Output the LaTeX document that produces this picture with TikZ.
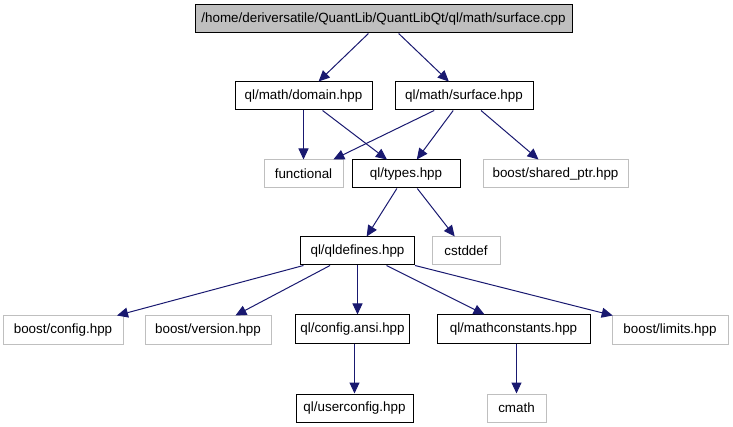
\documentclass[tikz,border=0pt]{standalone}
\usepackage{fontspec}
\setmainfont{Liberation Sans}
\usepackage{xcolor}
\usepackage{tikz}
\usetikzlibrary{positioning,%
  arrows.meta,%
  calc
}
\definecolor{edgeblue}{HTML}{191970}
\definecolor{filegray}{HTML}{BFBFBF}

\begin{document}
\begin{tikzpicture}
                    [
                        x=1pt, y=-1pt,
                        every node/.style={draw, rectangle, inner sep=0pt, minimum height=28pt,
                            font=\fontsize{13.4}{15}\selectfont},
                        file/.style={line width=1pt, draw=black},
                        extern/.style={draw=filegray, line width=1pt},
                        dep/.style={draw=edgeblue, line width=1pt, -{Triangle[length=11pt,width=10pt]}}
                    ]

                    % Rahmen
                    \useasboundingbox (0,0) rectangle (733,427);

                    % Dateien
                    \node[file, fill=filegray, minimum width=377pt] (top) at (383.5,19) {/home/deriversatile/QuantLib/QuantLibQt/ql/math/surface.cpp};
                    \node[file, minimum width=137pt] (domain) at (303.5,96) {ql/math/domain.hpp};
                    \node[file, minimum width=138pt] (surface) at (464,96) {ql/math/surface.hpp};
                    \node[extern, minimum width=79pt] (functional) at (303.5,174) {functional};
                    \node[file, minimum width=108pt] (types) at (406,174) {ql/types.hpp};
                    \node[extern, minimum width=145pt] (sharedptr) at (555.5,174) {boost/shared\_ptr.hpp};
                    \node[file, minimum width=114pt] (qldefines) at (357.5,251) {ql/qldefines.hpp};
                    \node[extern, minimum width=68pt] (cstddef) at (466,251) {cstddef};
                    \node[extern, minimum width=120pt] (bconfig) at (63,330) {boost/config.hpp};
                    \node[extern, minimum width=126pt] (bversion) at (208,330) {boost/version.hpp};
                    \node[file, minimum width=114pt] (configansi) at (352.5,329) {ql/config.ansi.hpp};
                    \node[file, minimum width=153pt] (mathconst) at (513.5,329) {ql/mathconstants.hpp};
                    \node[extern, minimum width=116pt] (blimits) at (670,330) {boost/limits.hpp};
                    \node[file, minimum width=117pt] (userconfig) at (354.5,408) {ql/userconfig.hpp};
                    \node[extern, minimum width=59pt] (cmath) at (516.5,408) {cmath};

                    % Abhaengigkeiten
                    \draw[dep] (top) -- (domain);
                    \draw[dep] (top) -- (surface);
                    \draw[dep] (domain) -- (functional);
                    \draw[dep] (domain) -- (types);
                    \draw[dep] (surface) -- (functional);
                    \draw[dep] (surface) -- (types);
                    \draw[dep] (surface) -- (sharedptr);
                    \draw[dep] (types) -- (qldefines);
                    \draw[dep] (types) -- (cstddef);
                    \draw[dep] (qldefines) -- (bconfig);
                    \draw[dep] (qldefines) -- (bversion);
                    \draw[dep] (qldefines.south) -- (configansi.north -| qldefines.south);
                    \draw[dep] (qldefines) -- (mathconst);
                    \draw[dep] (qldefines) -- (blimits);
                    \draw[dep] (configansi.south -| userconfig.north) -- (userconfig.north);
                    \draw[dep] (mathconst.south -| cmath.north) -- (cmath.north);
                \end{tikzpicture}
\end{document}
